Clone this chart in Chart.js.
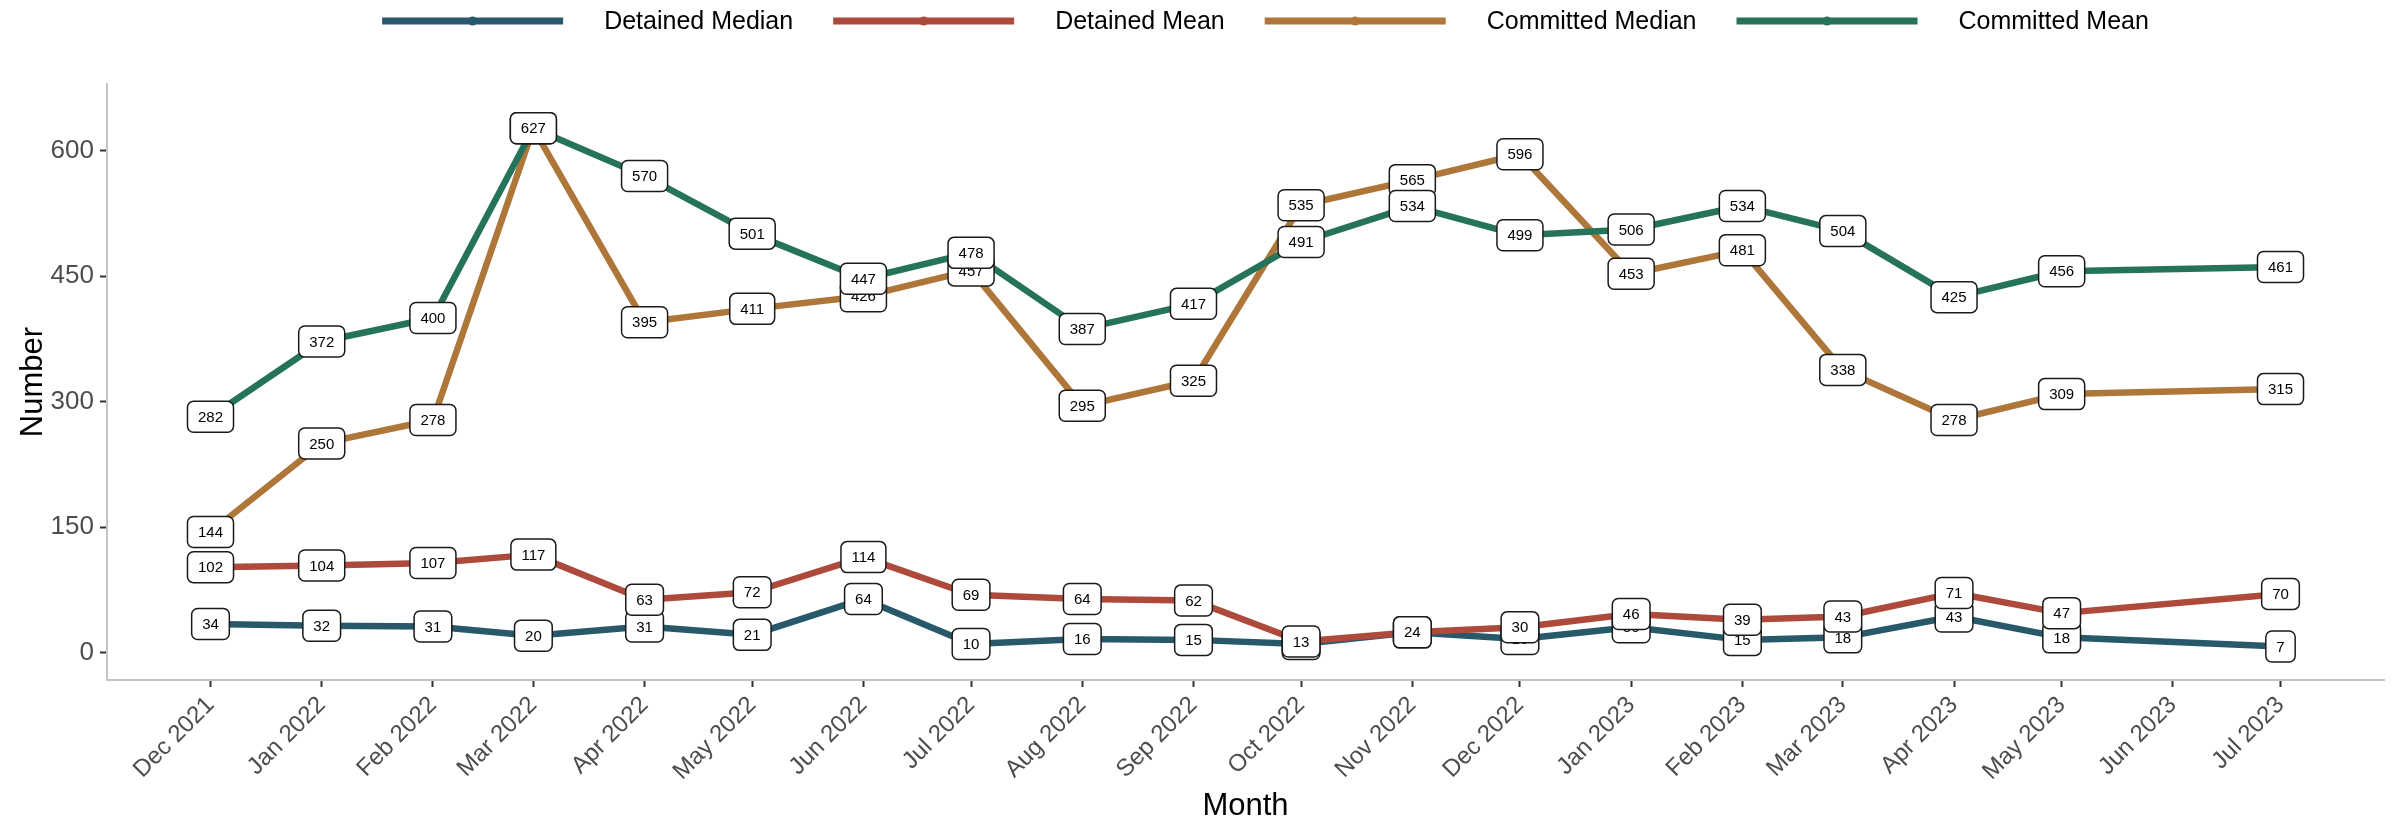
<!DOCTYPE html>
<html>
<head>
<meta charset="utf-8">
<script src="https://cdn.jsdelivr.net/npm/chart.js@4.4.0/dist/chart.umd.min.js"></script>
<style>
  html, body { margin: 0; padding: 0; background: #fff; }
</style>
</head>
<body>
<canvas id="monthChart" width="2407" height="826"></canvas>
<script>
// months on the axis (Jun 2023 has no data, but keeps its tick)
var months = ['Dec 2021', 'Jan 2022', 'Feb 2022', 'Mar 2022', 'Apr 2022', 'May 2022',
  'Jun 2022', 'Jul 2022', 'Aug 2022', 'Sep 2022', 'Oct 2022', 'Nov 2022', 'Dec 2022',
  'Jan 2023', 'Feb 2023', 'Mar 2023', 'Apr 2023', 'May 2023', 'Jun 2023', 'Jul 2023'];

var detainedMedian  = [34, 32, 31, 20, 31, 21, 64, 10, 16, 15, 10, 24, 16, 30, 15, 18, 43, 18, null, 7];
var detainedMean    = [102, 104, 107, 117, 63, 72, 114, 69, 64, 62, 13, 24, 30, 46, 39, 43, 71, 47, null, 70];
var committedMedian = [144, 250, 278, 627, 395, 411, 426, 457, 295, 325, 535, 565, 596, 453, 481, 338, 278, 309, null, 315];
var committedMean   = [282, 372, 400, 627, 570, 501, 447, 478, 387, 417, 491, 534, 499, 506, 534, 504, 425, 456, null, 461];

var seriesNames  = ['Detained Median', 'Detained Mean', 'Committed Median', 'Committed Mean'];
var seriesColors = ['#27596b', '#ad4a3b', '#ae7639', '#25735a'];
var yTicks = [0, 150, 300, 450, 600];

var FONT = '"Liberation Sans", Arial, sans-serif';
var monthNames = ['Jan', 'Feb', 'Mar', 'Apr', 'May', 'Jun', 'Jul', 'Aug', 'Sep', 'Oct', 'Nov', 'Dec'];

// days since the first month, so the x axis is spaced like a real date axis
function dayOf(label) {
  var parts = label.split(' ');
  var m = monthNames.indexOf(parts[0]);
  var y = parseInt(parts[1], 10);
  return (Date.UTC(y, m, 1) - Date.UTC(2021, 11, 1)) / 86400000;
}
var monthDays = months.map(dayOf);
var span = monthDays[monthDays.length - 1] - monthDays[0];

function toPoints(values) {
  var pts = [];
  values.forEach(function(v, i) {
    if (v !== null) pts.push({ x: monthDays[i], y: v });
  });
  return pts;
}

var allSeries = [detainedMedian, detainedMean, committedMedian, committedMean];
var datasets = allSeries.map(function(values, i) {
  return {
    label: seriesNames[i],
    data: toPoints(values),
    borderColor: seriesColors[i],
    backgroundColor: seriesColors[i],
    borderWidth: 6.5,
    borderJoinStyle: 'round',
    tension: 0,
    pointRadius: 0,
    pointHoverRadius: 0,
    order: allSeries.length - i
  };
});

// white rounded value boxes, drawn after all lines
var valueLabels = {
  id: 'valueLabels',
  afterDatasetsDraw: function(chart) {
    var ctx = chart.ctx;
    ctx.save();
    ctx.font = '15px ' + FONT;
    ctx.textAlign = 'center';
    ctx.textBaseline = 'middle';
    chart.data.datasets.forEach(function(ds, di) {
      var meta = chart.getDatasetMeta(di);
      meta.data.forEach(function(pt, j) {
        var txt = String(ds.data[j].y);
        var w = ctx.measureText(txt).width + 21;
        var h = 31;
        ctx.beginPath();
        ctx.roundRect(pt.x - w / 2, pt.y - h / 2, w, h, 6);
        ctx.fillStyle = '#ffffff';
        ctx.fill();
        ctx.lineWidth = 1.5;
        ctx.strokeStyle = '#1a1a1a';
        ctx.stroke();
        ctx.fillStyle = '#000000';
        ctx.fillText(txt, pt.x, pt.y + 1);
      });
    });
    ctx.restore();
  }
};

// legend across the top: long line with a dot, then the name
var topLegend = {
  id: 'topLegend',
  afterDraw: function(chart) {
    var ctx = chart.ctx;
    ctx.save();
    ctx.font = '25px ' + FONT;
    ctx.textBaseline = 'middle';
    var lineLen = 181, gapText = 41, gapItem = 40;
    var widths = seriesNames.map(function(n) { return ctx.measureText(n).width; });
    var total = widths.reduce(function(a, b) { return a + b; }, 0) +
      seriesNames.length * (lineLen + gapText) + gapItem * (seriesNames.length - 1);
    var center = (chart.chartArea.left + chart.chartArea.right) / 2 + 20;
    var x = center - total / 2;
    var y = 21;
    seriesNames.forEach(function(name, i) {
      ctx.strokeStyle = seriesColors[i];
      ctx.lineWidth = 7;
      ctx.beginPath();
      ctx.moveTo(x, y);
      ctx.lineTo(x + lineLen, y);
      ctx.stroke();
      ctx.fillStyle = seriesColors[i];
      ctx.beginPath();
      ctx.arc(x + lineLen / 2, y, 4.5, 0, Math.PI * 2);
      ctx.fill();
      ctx.fillStyle = '#000000';
      ctx.fillText(name, x + lineLen + gapText, y + 1);
      x += lineLen + gapText + widths[i] + gapItem;
    });
    ctx.restore();
  }
};

var chartOptions = {
  responsive: false,
  animation: false,
  layout: { padding: { top: 84, right: 23, left: 0, bottom: 0 } },
  plugins: {
    legend: { display: false },
    tooltip: { enabled: false }
  },
  scales: {
    x: {
      type: 'linear',
      min: -span * 0.05,
      max: span * 1.05,
      afterBuildTicks: function(scale) {
        scale.ticks = monthDays.map(function(d) { return { value: d }; });
      },
      afterFit: function(scale) { scale.height = 146; },
      ticks: {
        autoSkip: false,
        minRotation: 45,
        maxRotation: 45,
        padding: 4,
        color: '#4d4d4d',
        font: { family: FONT, size: 24 },
        callback: function(value) {
          var i = monthDays.indexOf(value);
          return i >= 0 ? months[i] : '';
        }
      },
      grid: { drawOnChartArea: false, drawTicks: true, tickLength: 7, tickColor: '#333333', tickWidth: 2 },
      border: { display: true, color: '#c4c4c4', width: 2 },
      title: { display: true, text: 'Month', color: '#000000', font: { family: FONT, size: 31 }, padding: { top: 0, bottom: 1 } }
    },
    y: {
      min: -33,
      max: 680,
      afterBuildTicks: function(scale) {
        scale.ticks = yTicks.map(function(v) { return { value: v }; });
      },
      afterFit: function(scale) { scale.width = 107; },
      ticks: {
        padding: 6,
        color: '#4d4d4d',
        font: { family: FONT, size: 26 }
      },
      grid: { drawOnChartArea: false, drawTicks: true, tickLength: 7, tickColor: '#333333', tickWidth: 2 },
      border: { display: true, color: '#c4c4c4', width: 2 },
      title: { display: true, text: 'Number', color: '#000000', font: { family: FONT, size: 31 }, padding: { top: 15, bottom: 0 } }
    }
  }
};

new Chart(document.getElementById('monthChart'), {
  type: 'line',
  data: { datasets: datasets },
  options: chartOptions,
  plugins: [valueLabels, topLegend]
});
</script>
</body>
</html>
